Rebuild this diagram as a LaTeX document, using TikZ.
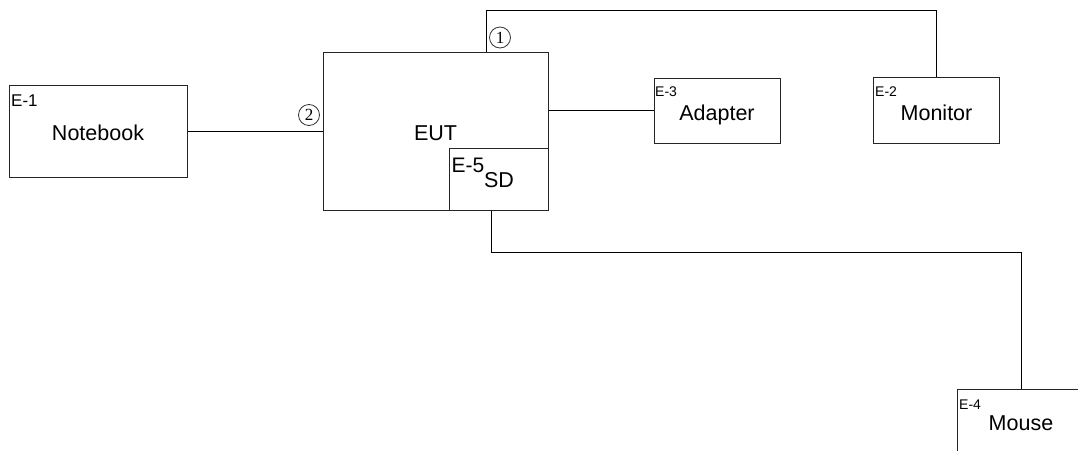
\documentclass[tikz,border=0pt]{standalone}
\usepackage{fontspec}
\setmainfont{Liberation Sans}
\newfontfamily\serifnum{Liberation Serif}
\begin{document}
\begin{tikzpicture}[x=1pt,y=-1pt,
  box/.style={draw=black!85,line width=1pt,rectangle,inner sep=0pt,anchor=center},
  conn/.style={draw=black,line width=1pt},
  main/.style={font=\fontsize{21.5}{21.5}\selectfont,inner sep=0pt,anchor=base},
  tag/.style={font=\fontsize{14}{14}\selectfont,inner sep=0pt,anchor=base west},
  num/.style={draw=black!80,line width=0.8pt,circle,minimum size=21pt,inner sep=0pt,font=\serifnum\fontsize{17}{17}\selectfont}]
\useasboundingbox (0,0) rectangle (1078,450);
\clip (0,0) rectangle (1078,450);
% boxes
\node[box,minimum width=178pt,minimum height=92pt] (nb) at (98,131) {};
\node[box,minimum width=225pt,minimum height=158pt] (eut) at (435.5,131) {};
\node[box,minimum width=99pt,minimum height=62pt] (sd) at (498.5,179) {};
\node[box,minimum width=126pt,minimum height=65pt] (ad) at (717,110.5) {};
\node[box,minimum width=126pt,minimum height=66pt] (mon) at (936,110) {};
\node[box,minimum width=128pt,minimum height=65pt] (mou) at (1021,421.5) {};
% labels
\node[tag,font=\fontsize{17}{17}\selectfont] (l1) at (11,106.5) {E-1};
\node[main] (t1) at (98,140) {Notebook};
\node[main] (t2) at (435.5,140) {EUT};
\node[tag,font=\fontsize{21}{21}\selectfont] (l5) at (451.5,172.5) {E-5};
\node[main] (t5) at (499,187.5) {SD};
\node[tag] (l3) at (655,96.5) {E-3};
\node[main] (t3) at (717,120) {Adapter};
\node[tag] (l2) at (875,96.5) {E-2};
\node[main] (t4) at (936.5,120) {Monitor};
\node[tag] (l4) at (959,409.5) {E-4};
\node[main] (t6) at (1021,430.5) {Mouse};
% connectors
\coordinate (c1) at (486,10);
\coordinate (c2) at (491,252);
\draw[conn] (nb.east) -- (eut.west);
\draw[conn] (eut.east |- ad.west) -- (ad.west);
\draw[conn] (c1 |- eut.north) -- (c1) -| (mon.north);
\draw[conn] (c2 |- sd.south) -- (c2) -| (mou.north);
% circled numbers
\node[num] (n1) at (500,37.5) {1};
\node[num] (n2) at (309,115) {2};
\end{tikzpicture}
\end{document}
